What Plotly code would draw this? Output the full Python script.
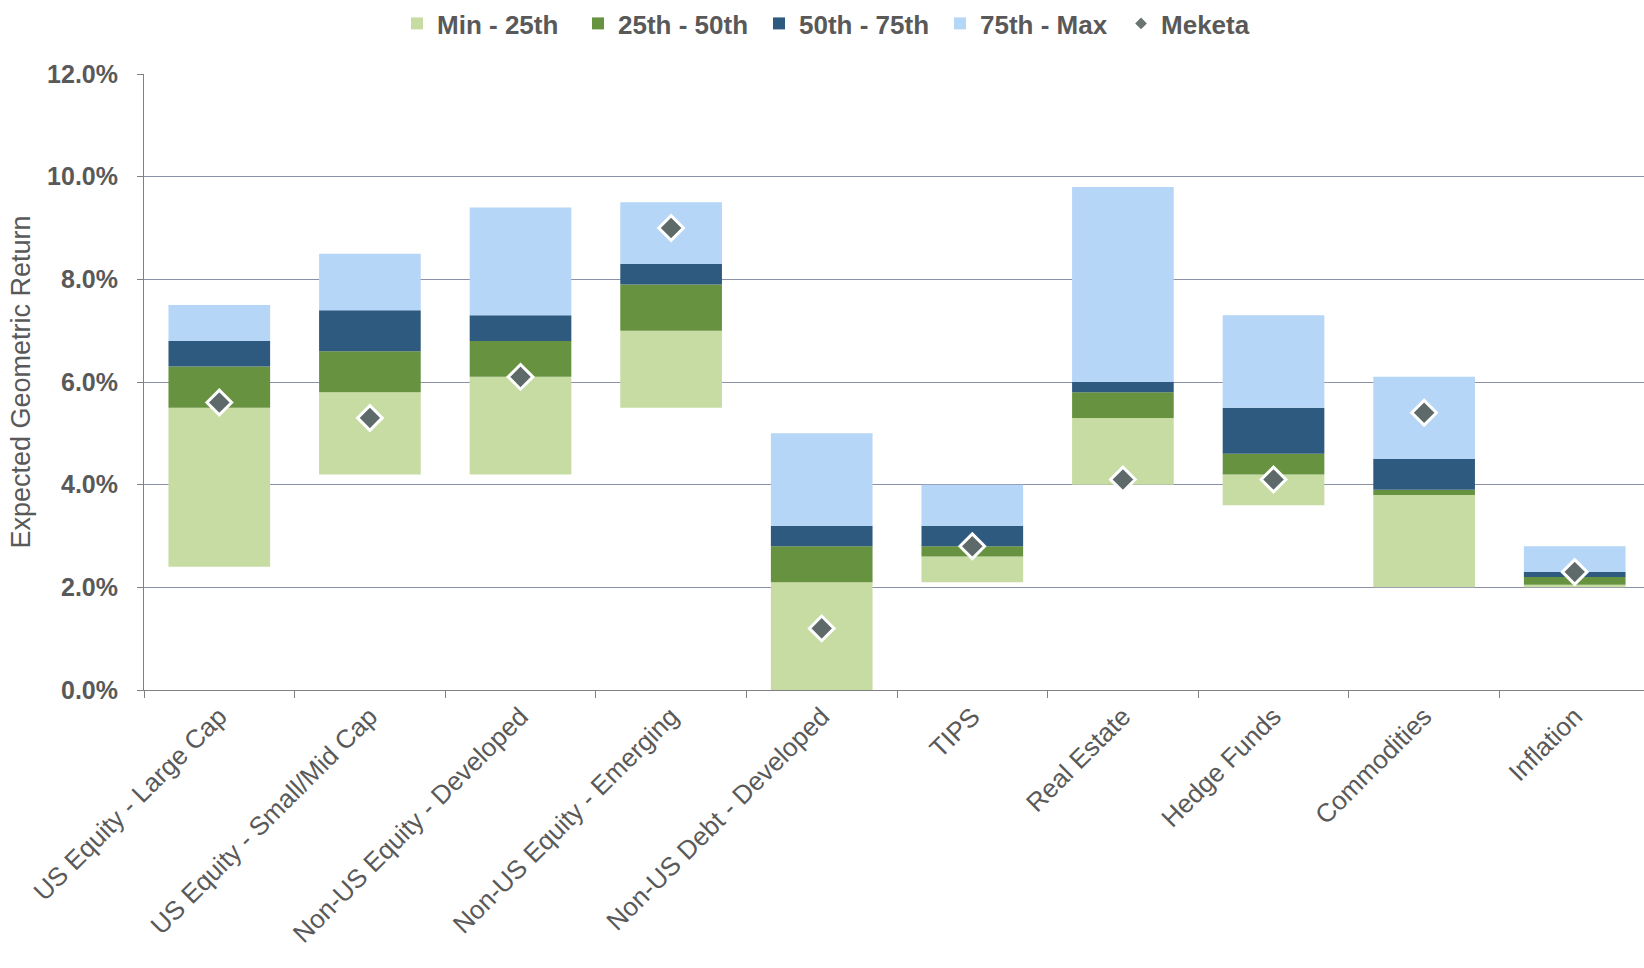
import plotly.graph_objects as go

categories = ["US Equity - Large Cap", "US Equity - Small/Mid Cap", "Non-US Equity - Developed",
              "Non-US Equity - Emerging", "Non-US Debt - Developed", "TIPS", "Real Estate",
              "Hedge Funds", "Commodities", "Inflation"]
p_min = [2.4, 4.2, 4.2, 5.5, 0.0, 2.1, 4.0, 3.6, 2.0, 2.0]
p25 = [5.5, 5.8, 6.1, 7.0, 2.1, 2.6, 5.3, 4.2, 3.8, 2.05]
p50 = [6.3, 6.6, 6.8, 7.9, 2.8, 2.8, 5.8, 4.6, 3.9, 2.2]
p75 = [6.8, 7.4, 7.3, 8.3, 3.2, 3.2, 6.0, 5.5, 4.5, 2.3]
p_max = [7.5, 8.5, 9.4, 9.5, 5.0, 4.0, 9.8, 7.3, 6.1, 2.8]
meketa = [5.6, 5.3, 6.1, 9.0, 1.2, 2.8, 4.1, 4.1, 5.4, 2.3]

series_names = ["Min - 25th", "25th - 50th", "50th - 75th", "75th - Max"]
colors = ["#c6dca3", "#67923f", "#2f5a80", "#b5d6f6"]
lows = [p_min, p25, p50, p75]
highs = [p25, p50, p75, p_max]

fig = go.Figure()
for name, col, lo, hi in zip(series_names, colors, lows, highs):
    fig.add_trace(go.Bar(
        x=categories, y=[h - l for h, l in zip(hi, lo)], base=lo, name=name,
        marker=dict(color=col, line=dict(width=0)), width=0.675,
    ))

fig.add_trace(go.Scatter(
    x=categories, y=meketa, mode="markers", name="Meketa", showlegend=False,
    marker=dict(symbol="diamond", size=19, color="#5d6a69", line=dict(color="white", width=3)),
))
fig.add_trace(go.Scatter(
    x=[None], y=[None], mode="markers", name="Meketa",
    marker=dict(symbol="diamond", size=9, color="#6a7473"),
))

font_main = "Liberation Sans, Arial, sans-serif"
fig.update_layout(
    width=1644, height=968,
    margin=dict(l=144, r=0, t=74, b=278, pad=0),
    paper_bgcolor="white", plot_bgcolor="white",
    barmode="overlay",
    font=dict(family=font_main, color="#595959"),
    legend=dict(orientation="h", xref="container", yref="container", x=0.2415, y=1.0,
                xanchor="left", yanchor="top",
                font=dict(size=26, family=font_main, color="#595959", weight="bold"),
                itemwidth=30, traceorder="normal", entrywidth=136, entrywidthmode="pixels"),
    xaxis=dict(range=[-0.5, 9.46], showline=True, linecolor="#808080", linewidth=1,
               ticks="outside", tickson="boundaries", ticklen=7, tickcolor="#808080",
               tickangle=-45, tickfont=dict(size=26, color="#595959"), showgrid=False),
    yaxis=dict(range=[0, 12], dtick=2, tickformat=".1f", ticksuffix="%",
               showline=True, linecolor="#808080", linewidth=1,
               ticks="outside", ticklen=6, tickcolor="#808080", ticklabelstandoff=14,
               gridcolor="#8c90a8", gridwidth=1, zeroline=False,
               tickfont=dict(size=25, color="#595959", weight="bold"),
               title=dict(text="Expected Geometric Return", font=dict(size=27, color="#595959"),
                          standoff=8)),
)

fig.write_html("out.html")
